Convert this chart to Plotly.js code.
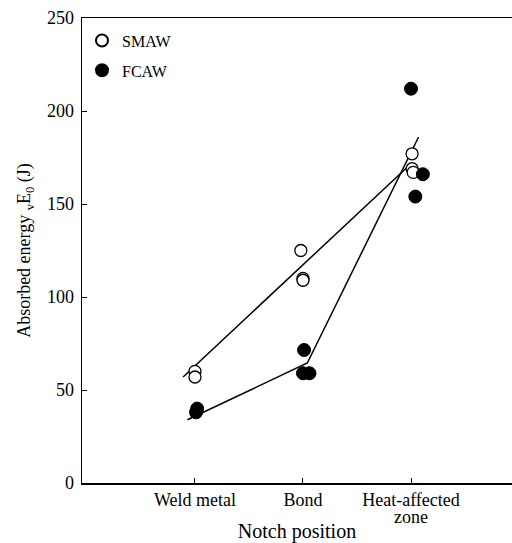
<!DOCTYPE html>
<html>
<head>
<meta charset="utf-8">
<script src="https://cdn.plot.ly/plotly-3.0.1.min.js"></script>
<style>html,body{margin:0;padding:0;background:#fff;}#chart{width:512px;height:543px;}</style>
</head>
<body>
<div id="chart"></div>
<script>
// Category positions and tick labels
const categoryPos = [1, 2, 3];
const categoryLabels = ['Weld metal', 'Bond', 'Heat-affected'];
const hazSecondLine = 'zone';

// SMAW (open circles): notch-position coordinate (with slight scatter) and absorbed energy (J)
const smawX = [1.0, 1.0, 1.98, 2.0, 2.0, 3.01, 3.01, 3.02];
const smawY = [60, 57, 125, 110, 109, 177, 169, 167];

// FCAW (filled circles)
const fcawX = [1.02, 1.01, 2.01, 2.0, 2.06, 3.0, 3.11, 3.04];
const fcawY = [40, 38, 71.5, 59, 59, 212, 166, 154];

// Trend lines drawn in the figure
const smawLineX = [0.89, 2.96];
const smawLineY = [57, 169.5];
const fcawLineX = [0.93, 2.04, 3.07];
const fcawLineY = [34, 64.5, 186];

const serif = 'Liberation Serif, Times New Roman, serif';

const traces = [
  {x: smawLineX, y: smawLineY, mode: 'lines', line: {color: '#000', width: 1.5}, showlegend: false, hoverinfo: 'skip'},
  {x: fcawLineX, y: fcawLineY, mode: 'lines', line: {color: '#000', width: 1.5}, showlegend: false, hoverinfo: 'skip'},
  {x: smawX, y: smawY, mode: 'markers', name: 'SMAW', legendgroup: 's',
   marker: {symbol: 'circle', size: 12, color: '#fff', line: {color: '#000', width: 1.3}}},
  {x: fcawX, y: fcawY, mode: 'markers', name: 'FCAW', legendgroup: 'f',
   marker: {symbol: 'circle', size: 13, color: '#000', line: {color: '#000', width: 1}}}
];

const layout = {
  width: 512, height: 543,
  margin: {l: 82, r: 0, t: 18, b: 60},
  paper_bgcolor: '#fff', plot_bgcolor: '#fff',
  font: {family: serif, size: 15, color: '#000'},
  showlegend: true,
  legend: {x: 0.0, y: 0.988, xanchor: 'left', yanchor: 'top', bgcolor: 'rgba(0,0,0,0)',
           font: {family: serif, size: 16}, itemsizing: 'constant', tracegroupgap: 6,
           itemwidth: 30},
  xaxis: {
    range: [-0.046, 3.935], showgrid: false, zeroline: false,
    showline: true, linecolor: '#000', linewidth: 1.5, mirror: true,
    tickmode: 'array', tickvals: categoryPos, ticktext: categoryLabels,
    ticks: 'inside', ticklen: 5, tickcolor: '#000',
    tickfont: {family: serif, size: 18},
    title: {text: 'Notch position', font: {family: serif, size: 20}, standoff: 20}
  },
  yaxis: {
    range: [0, 250], showgrid: false, zeroline: false,
    showline: true, linecolor: '#000', linewidth: 1.5,
    tickvals: [0, 50, 100, 150, 200, 250],
    ticks: 'inside', ticklen: 5, tickcolor: '#000', ticklabelstandoff: 3,
    tickfont: {family: serif, size: 18},
    title: {text: 'Absorbed energy <sub>v</sub>E<sub>0</sub> (J)', font: {family: serif, size: 18}, standoff: 11}
  },
  annotations: [{
    text: hazSecondLine, x: categoryPos[2], xref: 'x', y: 0, yref: 'paper',
    xanchor: 'center', yanchor: 'middle', yshift: -34, showarrow: false,
    font: {family: serif, size: 18}
  }]
};

Plotly.newPlot('chart', traces, layout, {displayModeBar: false, staticPlot: true});
</script>
</body>
</html>
